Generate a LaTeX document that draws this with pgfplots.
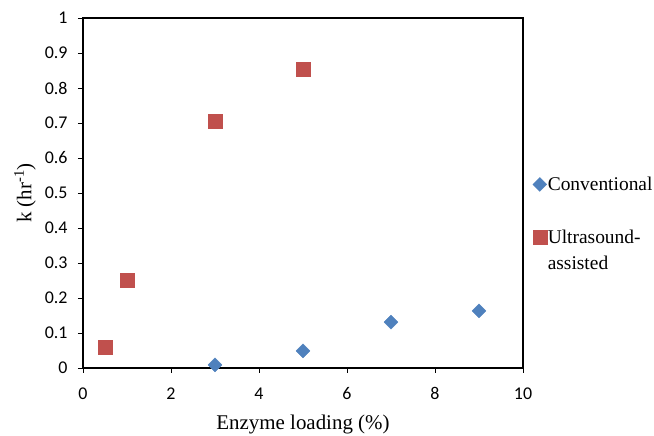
\documentclass[border=0pt]{standalone}
\usepackage{fontspec}
\setmainfont{Liberation Serif}
\newfontfamily\ticksfont{Carlito}
\usepackage{pgfplots}
\pgfplotsset{compat=1.18}
\definecolor{convblue}{HTML}{4F81BD}
\definecolor{usred}{HTML}{C0504D}
\begin{document}
\begin{tikzpicture}[x=1bp,y=1bp]
\useasboundingbox (-83,-68) rectangle (571,368);
\begin{axis}[
  at={(0,0)}, anchor=south west,
  width=440bp, height=350bp, scale only axis,
  xmin=0, xmax=10, ymin=0, ymax=1,
  xtick={0,2,...,10},
  ytick={0,0.1,...,1},
  yticklabels={0,0.1,0.2,0.3,0.4,0.5,0.6,0.7,0.8,0.9,1},
  xtick pos=bottom, ytick pos=left,
  tick align=outside,
  major tick length=5bp,
  axis line style={line width=1.1pt},
  tick style={black, line width=0.8pt},
  tick label style={font=\ticksfont\fontsize{18}{20}\selectfont},
  xticklabel style={yshift=-11bp},
  yticklabel style={xshift=-7bp},
  /pgf/number format/assume math mode=true,
  xlabel={Enzyme loading (\%)},
  ylabel={k (hr\textsuperscript{-1})},
  label style={font=\fontsize{21}{23}\selectfont},
  xlabel style={yshift=-8bp},
  ylabel style={yshift=2bp},
  legend style={draw=none, at={(1.015,0.555)}, anchor=north west,
    font=\fontsize{19.5}{26}\selectfont, row sep=36bp,
    nodes={align=left, text width=104bp, inner sep=1bp},
    legend cell align=left},
  legend image code/.code={\draw[#1] (0bp,0bp) plot coordinates {(0bp,0bp)};},
]
\addplot[only marks, mark=square*, mark size=4.9bp, mark options={rotate=45, fill=convblue, draw=convblue}]
  coordinates {(3,0.009) (5,0.049) (7,0.131) (9,0.163)};
\addlegendentry{Conventional}
\addplot[only marks, mark=square*, mark size=7bp, mark options={fill=usred, draw=usred}]
  coordinates {(0.5,0.06) (1,0.25) (3,0.706) (5,0.855)};
\addlegendentry{Ultrasound-\\assisted}
\end{axis}
\end{tikzpicture}
\end{document}
